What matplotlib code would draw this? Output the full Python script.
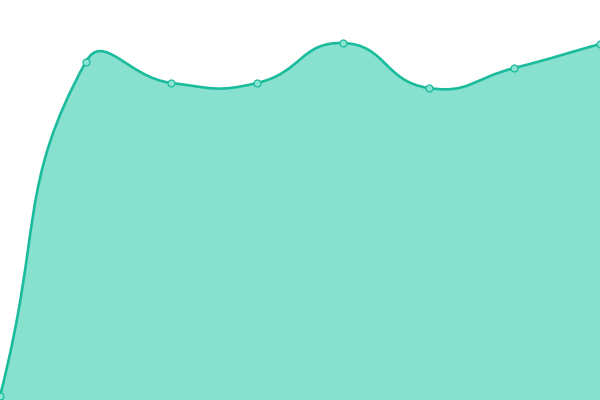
import numpy as np
import matplotlib
matplotlib.use("Agg")
import matplotlib.pyplot as plt
from matplotlib.path import Path
from matplotlib.patches import PathPatch

# values (y axis 0..400)
categories = [0, 1, 2, 3, 4, 5, 6, 7]
values = [4, 338, 317, 317, 357, 312, 332, 356]

line_color = "#1abc9c"
fill_color = "#88e0cf"

fig = plt.figure(figsize=(6, 4), dpi=100)
ax = fig.add_axes([0, 0, 1, 1])
ax.set_xlim(0, 7)
ax.set_ylim(0, 400)
ax.axis("off")

# smooth curve through the points (bezier control points, echarts-like)
pts = ax.transData.transform(np.column_stack([categories, values]))
smooth = 0.5
n = len(pts)
verts = [pts[0]]
codes = [Path.MOVETO]
ctrl_next = []
ctrl_prev = []
for i in range(n):
    cur = pts[i]
    prev = pts[i - 1] if i > 0 else cur
    nxt = pts[i + 1] if i < n - 1 else cur
    v = nxt - prev
    d0 = np.hypot(*(cur - prev))
    d1 = np.hypot(*(nxt - cur))
    tot = d0 + d1
    if tot == 0:
        ctrl_prev.append(cur)
        ctrl_next.append(cur)
        continue
    ctrl_prev.append(cur - v * smooth * d0 / tot)
    ctrl_next.append(cur + v * smooth * d1 / tot)
for i in range(n - 1):
    verts += [ctrl_next[i], ctrl_prev[i + 1], pts[i + 1]]
    codes += [Path.CURVE4] * 3

inv = ax.transData.inverted()
verts_data = inv.transform(np.array(verts))

line_path = Path(verts_data, codes)
area_verts = list(verts_data) + [(categories[-1], 0), (categories[0], 0), verts_data[0]]
area_codes = codes + [Path.LINETO, Path.LINETO, Path.CLOSEPOLY]
area_path = Path(area_verts, area_codes)

ax.add_patch(PathPatch(area_path, facecolor=fill_color, edgecolor="none", zorder=1))
ax.add_patch(PathPatch(line_path, facecolor="none", edgecolor=line_color, linewidth=1.9, zorder=2))
ax.plot(categories, values, linestyle="none", marker="o", markersize=5,
        markerfacecolor="#8be3d1", markeredgecolor=line_color, markeredgewidth=0.9, zorder=3)

fig.savefig("out.png", dpi=100)
